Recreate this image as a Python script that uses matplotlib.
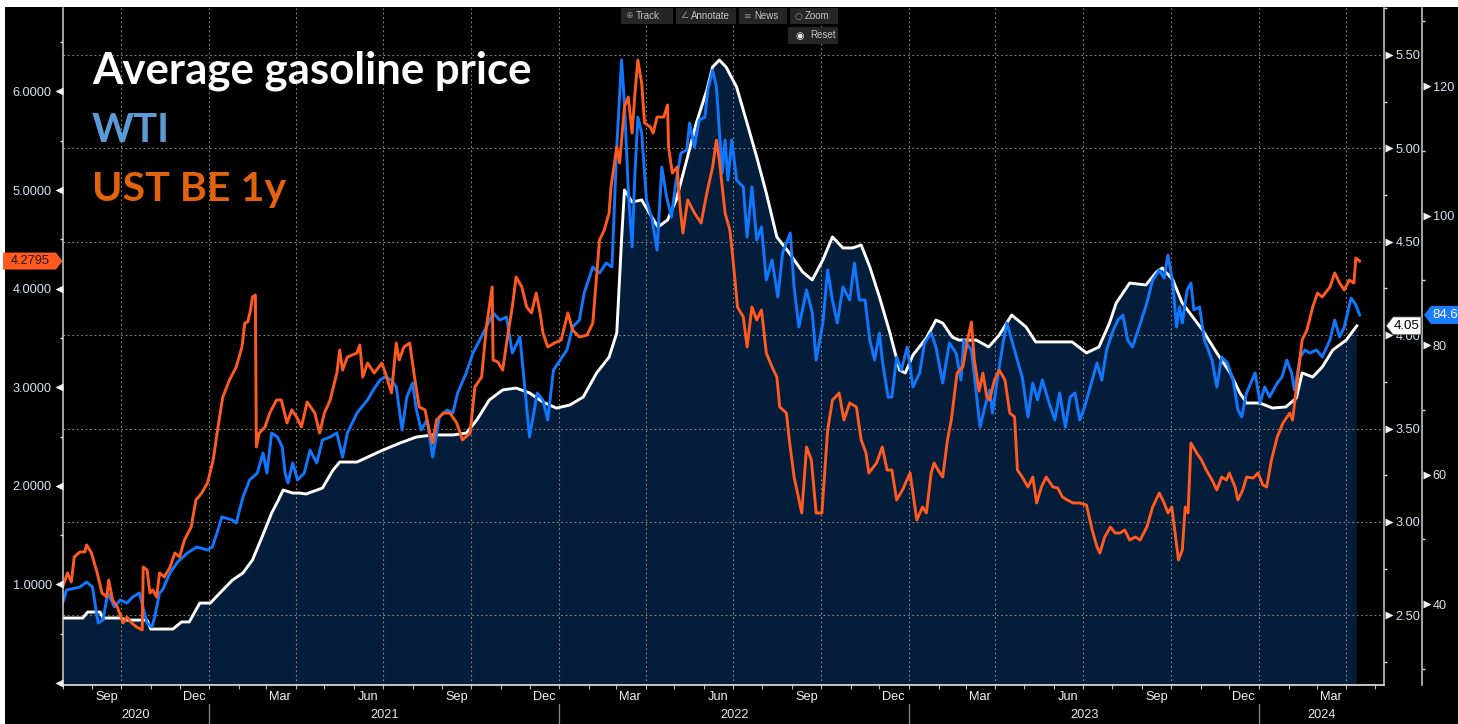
import matplotlib
matplotlib.use("Agg")
import matplotlib.pyplot as plt
import matplotlib.dates as mdates
import matplotlib.ticker as mticker
from matplotlib.patches import Polygon, Rectangle
from matplotlib.transforms import blended_transform_factory, offset_copy
from matplotlib import font_manager
import numpy as np
import pandas as pd

installed = {f.name for f in font_manager.fontManager.ttflist}
TICK_FONT = 'Liberation Sans' if 'Liberation Sans' in installed else 'DejaVu Sans'
TITLE_FONT = 'Lato' if 'Lato' in installed else 'DejaVu Sans'
plt.rcParams['font.family'] = [TICK_FONT, 'DejaVu Sans']

# ---------------- data ----------------
gas_dates = ["2020-08-01","2020-08-22","2020-08-27","2020-09-09","2020-09-12","2020-09-30","2020-10-07","2020-10-28",
             "2020-11-01","2020-11-24","2020-12-03","2020-12-11","2020-12-22","2021-01-02","2021-01-12","2021-01-25",
             "2021-02-05","2021-02-15","2021-02-25","2021-03-07","2021-03-14","2021-03-19","2021-03-29","2021-04-05",
             "2021-04-12","2021-04-29","2021-05-10","2021-05-17","2021-06-04","2021-06-20","2021-07-01","2021-07-19",
             "2021-08-05","2021-08-22","2021-09-12","2021-09-26","2021-10-07","2021-10-20","2021-11-03","2021-11-17",
             "2021-12-01","2021-12-15","2021-12-29","2022-01-12","2022-01-26","2022-02-09","2022-02-22","2022-03-02",
             "2022-03-07","2022-03-10","2022-03-18","2022-03-28","2022-04-05","2022-04-14","2022-04-24","2022-05-03",
             "2022-05-14","2022-05-24","2022-06-04","2022-06-10","2022-06-17","2022-06-24","2022-07-05","2022-07-15",
             "2022-07-26","2022-08-05","2022-08-16","2022-08-29","2022-09-12","2022-09-22","2022-10-03","2022-10-13",
             "2022-10-24","2022-11-03","2022-11-12","2022-11-21","2022-12-01","2022-12-12","2022-12-22","2022-12-28",
             "2023-01-05","2023-01-19","2023-01-29","2023-02-05","2023-02-15","2023-02-22","2023-03-12","2023-03-25",
             "2023-04-05","2023-04-18","2023-05-03","2023-05-13","2023-06-03","2023-06-20","2023-07-05","2023-07-18",
             "2023-07-29","2023-08-05","2023-08-19","2023-09-05","2023-09-16","2023-09-22","2023-10-03","2023-10-13",
             "2023-10-24","2023-11-03","2023-11-18","2023-12-02","2023-12-12","2023-12-19","2024-01-02","2024-01-15",
             "2024-01-29","2024-02-09","2024-02-15","2024-02-26","2024-03-07","2024-03-18","2024-04-01","2024-04-12"]
gas_values = [2.486,2.486,2.518,2.518,2.486,2.486,2.475,2.475,
              2.427,2.427,2.465,2.465,2.566,2.566,2.620,2.689,
              2.727,2.797,2.920,3.048,3.118,3.171,3.155,3.155,
              3.150,3.182,3.278,3.321,3.321,3.359,3.385,3.423,
              3.455,3.466,3.466,3.476,3.546,3.653,3.707,3.717,
              3.691,3.642,3.610,3.626,3.669,3.798,3.883,4.012,
              4.510,4.777,4.713,4.724,4.654,4.579,4.617,4.724,
              4.938,5.136,5.313,5.436,5.473,5.436,5.329,5.152,
              4.954,4.761,4.526,4.440,4.338,4.296,4.403,4.526,
              4.467,4.467,4.483,4.365,4.205,4.012,3.814,3.798,
              3.894,3.985,4.081,4.065,3.990,3.974,3.974,3.937,
              4.001,4.108,4.044,3.964,3.964,3.964,3.905,3.937,
              4.065,4.172,4.279,4.269,4.338,4.360,4.297,4.172,
              4.097,4.028,3.905,3.798,3.691,3.637,3.637,3.610,
              3.616,3.664,3.798,3.776,3.830,3.921,3.974,4.05]

wti_dates = ["2020-08-01","2020-08-05","2020-08-19","2020-08-26","2020-09-01","2020-09-07","2020-09-12","2020-09-17",
             "2020-09-24","2020-09-30","2020-10-07","2020-10-13","2020-10-20","2020-10-28","2020-11-02","2020-11-05",
             "2020-11-10","2020-11-13","2020-11-21","2020-11-28","2020-12-09","2020-12-19","2020-12-30","2021-01-04",
             "2021-01-09","2021-01-14","2021-01-25","2021-01-29","2021-02-05","2021-02-12","2021-02-20","2021-02-26",
             "2021-03-02","2021-03-07","2021-03-13","2021-03-18","2021-03-21","2021-03-24","2021-03-29","2021-04-03",
             "2021-04-10","2021-04-16","2021-04-23","2021-04-29","2021-05-07","2021-05-14","2021-05-20","2021-05-25",
             "2021-06-04","2021-06-15","2021-06-21","2021-06-28","2021-07-03","2021-07-10","2021-07-15","2021-07-21",
             "2021-07-26","2021-08-01","2021-08-05","2021-08-10","2021-08-16","2021-08-22","2021-08-29","2021-09-06",
             "2021-09-12","2021-09-17","2021-09-26","2021-10-03","2021-10-10","2021-10-17","2021-10-24","2021-10-31",
             "2021-11-07","2021-11-13","2021-11-21","2021-11-26","2021-12-01","2021-12-09","2021-12-15","2021-12-20",
             "2021-12-26","2022-01-02","2022-01-09","2022-01-15","2022-01-22","2022-01-27","2022-02-05","2022-02-12",
             "2022-02-19","2022-02-25","2022-03-02","2022-03-07","2022-03-10","2022-03-14","2022-03-18","2022-03-21",
             "2022-03-24","2022-03-28","2022-04-02","2022-04-08","2022-04-13","2022-04-18","2022-04-23","2022-04-28",
             "2022-05-03","2022-05-08","2022-05-14","2022-05-17","2022-05-22","2022-05-27","2022-06-02","2022-06-05",
             "2022-06-10","2022-06-14","2022-06-20","2022-06-23","2022-06-26","2022-06-30","2022-07-05","2022-07-12",
             "2022-07-16","2022-07-21","2022-07-26","2022-07-31","2022-08-05","2022-08-11","2022-08-17","2022-08-22",
             "2022-08-30","2022-09-03","2022-09-08","2022-09-16","2022-09-22","2022-09-26","2022-10-03","2022-10-08",
             "2022-10-13","2022-10-18","2022-10-24","2022-10-31","2022-11-05","2022-11-10","2022-11-16","2022-11-21",
             "2022-11-26","2022-12-01","2022-12-04","2022-12-10","2022-12-14","2022-12-19","2022-12-24","2022-12-30",
             "2023-01-05","2023-01-12","2023-01-17","2023-01-24","2023-01-29","2023-02-05","2023-02-12","2023-02-19",
             "2023-02-24","2023-02-27","2023-03-07","2023-03-16","2023-03-21","2023-03-26","2023-03-29","2023-04-04",
             "2023-04-09","2023-04-13","2023-04-18","2023-04-23","2023-04-29","2023-05-05","2023-05-10","2023-05-15",
             "2023-05-20","2023-05-27","2023-06-02","2023-06-07","2023-06-13","2023-06-18","2023-06-23","2023-06-28",
             "2023-07-03","2023-07-11","2023-07-16","2023-07-21","2023-07-26","2023-08-02","2023-08-07","2023-08-12",
             "2023-08-17","2023-08-22","2023-08-29","2023-09-06","2023-09-12","2023-09-19","2023-09-24","2023-09-28",
             "2023-10-03","2023-10-07","2023-10-10","2023-10-13","2023-10-18","2023-10-22","2023-10-25","2023-10-31",
             "2023-11-05","2023-11-13","2023-11-18","2023-11-23","2023-11-29","2023-12-05","2023-12-10","2023-12-14",
             "2023-12-19","2023-12-28","2024-01-02","2024-01-07","2024-01-12","2024-01-20","2024-01-25","2024-01-30",
             "2024-02-04","2024-02-07","2024-02-13","2024-02-18","2024-02-23","2024-03-01","2024-03-07","2024-03-15",
             "2024-03-20","2024-03-25","2024-03-30","2024-04-06","2024-04-11","2024-04-15"]
wti_values = [40.15,42.16,42.62,43.40,42.62,37.07,37.53,41.70,
              39.54,40.62,40.15,41.08,41.70,37.07,36.45,38.00,
              41.70,42.16,44.79,46.33,47.88,48.80,48.34,48.80,
              50.97,53.44,52.97,52.51,56.52,59.15,60.23,63.32,
              60.23,66.41,65.79,64.25,60.23,58.69,61.78,59.15,
              60.23,63.78,61.78,65.33,65.79,66.41,62.70,66.41,
              69.50,71.51,73.05,74.59,75.06,74.59,73.51,66.87,
              71.97,74.13,69.96,66.87,68.42,62.70,68.88,69.96,
              69.50,72.59,75.68,78.76,80.77,82.78,84.94,83.86,
              84.32,78.76,81.24,73.51,65.79,72.59,71.51,68.42,
              76.14,77.68,79.23,82.78,83.86,88.03,92.05,91.12,
              92.66,92.05,110.58,124.02,117.37,103.94,95.14,106.56,
              115.21,112.74,102.39,99.31,94.67,107.49,102.86,99.77,
              105.48,109.65,110.12,114.29,110.58,114.75,115.21,119.38,
              122.47,119.85,106.56,111.66,105.48,111.66,105.48,104.40,
              96.68,104.40,96.22,98.22,90.04,93.13,87.41,94.21,
              97.30,88.96,82.78,88.49,84.94,77.68,83.40,91.58,
              86.95,83.40,88.96,86.95,92.66,86.95,86.95,80.77,
              77.68,81.85,77.68,71.97,71.97,78.15,76.14,79.69,
              73.51,75.68,80.31,81.85,79.69,74.13,80.31,78.76,
              74.59,80.77,79.23,67.34,70.42,73.05,69.50,75.68,
              80.31,83.40,80.77,78.15,75.06,68.88,74.13,71.51,
              74.59,71.04,68.42,72.59,67.34,71.97,72.59,68.42,
              70.42,74.59,77.22,74.59,79.23,82.32,83.86,84.63,
              80.77,79.69,82.78,86.49,90.04,91.58,90.35,93.90,
              89.57,82.78,85.87,83.40,88.49,89.57,85.41,85.87,
              80.77,77.68,73.51,78.15,77.22,74.59,69.96,68.88,
              72.59,75.68,71.04,73.51,71.97,74.13,75.06,77.68,
              75.68,73.05,78.15,79.23,78.76,79.23,78.15,80.77,
              83.86,81.24,82.78,87.26,86.18,84.64]

be_dates = ["2020-08-01","2020-08-06","2020-08-10","2020-08-13","2020-08-19","2020-08-24","2020-08-26","2020-08-31",
            "2020-09-06","2020-09-11","2020-09-16","2020-09-18","2020-09-22","2020-09-27","2020-10-03","2020-10-07",
            "2020-10-12","2020-10-17","2020-10-23","2020-10-24","2020-10-28","2020-10-31","2020-11-03","2020-11-07",
            "2020-11-10","2020-11-15","2020-11-21","2020-11-26","2020-12-01","2020-12-06","2020-12-13","2020-12-18",
            "2020-12-24","2020-12-30","2021-01-05","2021-01-10","2021-01-15","2021-01-22","2021-01-29","2021-02-04",
            "2021-02-07","2021-02-10","2021-02-13","2021-02-15","2021-02-18","2021-02-19","2021-02-22","2021-02-28",
            "2021-03-05","2021-03-12","2021-03-17","2021-03-23","2021-03-28","2021-04-02","2021-04-07","2021-04-13",
            "2021-04-21","2021-04-26","2021-05-01","2021-05-07","2021-05-14","2021-05-17","2021-05-20","2021-05-25",
            "2021-06-04","2021-06-07","2021-06-10","2021-06-15","2021-06-22","2021-06-30","2021-07-05","2021-07-10",
            "2021-07-15","2021-07-18","2021-07-23","2021-07-29","2021-08-03","2021-08-08","2021-08-14","2021-08-19",
            "2021-08-22","2021-08-26","2021-09-02","2021-09-09","2021-09-16","2021-09-22","2021-09-30","2021-10-05",
            "2021-10-12","2021-10-17","2021-10-23","2021-10-24","2021-10-29","2021-11-03","2021-11-08","2021-11-13",
            "2021-11-17","2021-11-23","2021-11-28","2021-12-03","2021-12-08","2021-12-12","2021-12-15","2021-12-20",
            "2021-12-27","2022-01-03","2022-01-10","2022-01-15","2022-01-22","2022-01-30","2022-02-05","2022-02-12",
            "2022-02-17","2022-02-22","2022-02-24","2022-03-02","2022-03-05","2022-03-10","2022-03-14","2022-03-18",
            "2022-03-21","2022-03-24","2022-03-28","2022-03-31","2022-04-06","2022-04-09","2022-04-13","2022-04-20",
            "2022-04-24","2022-04-25","2022-04-29","2022-05-04","2022-05-07","2022-05-10","2022-05-15","2022-05-22",
            "2022-05-29","2022-06-04","2022-06-10","2022-06-14","2022-06-17","2022-06-23","2022-06-28","2022-07-01",
            "2022-07-06","2022-07-12","2022-07-16","2022-07-21","2022-07-26","2022-07-31","2022-08-05","2022-08-11",
            "2022-08-16","2022-08-19","2022-08-26","2022-08-29","2022-09-03","2022-09-11","2022-09-16","2022-09-21",
            "2022-09-26","2022-10-02","2022-10-08","2022-10-13","2022-10-20","2022-10-25","2022-10-31","2022-11-07",
            "2022-11-12","2022-11-17","2022-11-20","2022-11-28","2022-12-04","2022-12-09","2022-12-14","2022-12-19",
            "2022-12-25","2023-01-02","2023-01-09","2023-01-15","2023-01-19","2023-01-24","2023-01-27","2023-02-02",
            "2023-02-05","2023-02-10","2023-02-14","2023-02-20","2023-02-26","2023-03-03","2023-03-07","2023-03-10",
            "2023-03-15","2023-03-19","2023-03-23","2023-03-26","2023-03-31","2023-04-05","2023-04-11","2023-04-16",
            "2023-04-21","2023-04-24","2023-04-29","2023-05-05","2023-05-10","2023-05-14","2023-05-19","2023-05-24",
            "2023-05-31","2023-06-05","2023-06-10","2023-06-15","2023-06-21","2023-06-28","2023-07-05","2023-07-11",
            "2023-07-16","2023-07-19","2023-07-24","2023-07-30","2023-08-04","2023-08-09","2023-08-14","2023-08-19",
            "2023-08-25","2023-08-30","2023-09-06","2023-09-12","2023-09-19","2023-09-24","2023-09-28","2023-10-02",
            "2023-10-05","2023-10-09","2023-10-13","2023-10-16","2023-10-19","2023-10-22","2023-10-28","2023-11-02",
            "2023-11-07","2023-11-13","2023-11-18","2023-11-23","2023-11-28","2023-12-01","2023-12-07","2023-12-10",
            "2023-12-15","2023-12-19","2023-12-26","2023-12-31","2024-01-05","2024-01-09","2024-01-14","2024-01-20",
            "2024-01-26","2024-02-02","2024-02-05","2024-02-10","2024-02-15","2024-02-20","2024-02-26","2024-03-02",
            "2024-03-07","2024-03-15","2024-03-20","2024-03-25","2024-03-30","2024-04-04","2024-04-09","2024-04-11",
            "2024-04-15"]
be_values = [0.974,1.116,1.024,1.278,1.329,1.329,1.400,1.318,
             1.116,0.913,0.872,1.045,0.842,0.771,0.609,0.669,
             0.609,0.568,0.538,1.176,1.146,0.913,0.943,0.872,
             1.116,1.075,1.176,1.318,1.278,1.450,1.582,1.856,
             1.927,2.028,2.262,2.596,2.901,3.073,3.205,3.408,
             3.651,3.661,3.783,3.915,3.935,2.394,2.535,2.596,
             2.738,2.870,2.870,2.637,2.769,2.698,2.596,2.850,
             2.738,2.535,2.738,2.870,3.144,3.377,3.174,3.306,
             3.347,3.428,3.103,3.245,3.144,3.245,3.103,2.941,
             3.448,3.276,3.408,3.448,3.103,2.799,2.769,2.535,
             2.434,2.667,2.738,2.738,2.637,2.465,2.535,3.002,
             3.103,3.611,4.016,3.276,3.256,3.174,3.509,3.813,
             4.118,4.016,3.813,3.753,3.955,3.753,3.550,3.408,
             3.448,3.479,3.753,3.580,3.509,3.529,3.651,4.493,
             4.594,4.767,5.030,5.436,5.274,5.842,5.943,5.578,
             5.984,6.318,6.085,5.680,5.639,5.578,5.740,5.740,
             5.862,5.436,5.172,5.233,4.828,4.564,4.899,4.767,
             4.665,4.970,5.233,5.507,5.304,4.767,4.594,4.320,
             3.813,3.712,3.408,3.813,3.682,3.783,3.347,3.205,
             3.103,2.799,2.738,2.465,2.089,1.724,2.394,2.262,
             1.724,1.724,2.566,2.870,2.941,2.667,2.840,2.799,
             2.465,2.333,2.130,2.231,2.394,2.160,2.160,1.856,
             1.957,2.130,1.653,1.785,1.724,2.130,2.231,2.130,
             2.089,2.465,2.667,3.144,3.205,3.479,3.661,3.276,
             2.961,3.144,2.901,2.870,3.073,3.174,3.073,2.738,
             2.698,2.160,2.089,1.988,2.089,1.826,1.988,2.089,
             1.988,1.978,1.886,1.856,1.826,1.826,1.805,1.552,
             1.379,1.318,1.481,1.582,1.521,1.521,1.552,1.450,
             1.481,1.450,1.582,1.785,1.927,1.826,1.724,1.785,
             1.552,1.247,1.349,1.785,1.724,2.434,2.333,2.262,
             2.160,2.059,1.957,2.089,2.059,2.130,1.988,1.856,
             1.957,2.089,2.079,2.130,2.008,1.988,2.262,2.495,
             2.637,2.738,2.667,3.073,3.479,3.580,3.813,3.955,
             3.915,4.016,4.159,4.057,3.986,4.087,4.057,4.310,
             4.2795]

be_ticks = [0, 1, 2, 3, 4, 5, 6]
gas_ticks = [2.5, 3.0, 3.5, 4.0, 4.5, 5.0, 5.5]
wti_ticks = [40, 60, 80, 100, 120]
title_lines = ["Average gasoline price", "WTI", "UST BE 1y"]
toolbar_items = ["Track", "Annotate", "News", "Zoom"]

gas_dt = pd.to_datetime(gas_dates)
wti_dt = pd.to_datetime(wti_dates)
be_dt = pd.to_datetime(be_dates)

# ---------------- styling ----------------
W, H = 1458, 724
C_GAS, C_WTI, C_BE = '#ffffff', '#1078ff', '#ff5a1f'
C_FILL = '#041d3a'
C_GRID = '#8a8a8a'
C_LBL = '#d8e3f0'

fig = plt.figure(figsize=(W / 100, H / 100), dpi=100, facecolor='white')
fig.patches.append(Rectangle((5 / W, 0), 1, 1 - 7 / H, transform=fig.transFigure,
                             facecolor='black', edgecolor='none', zorder=-10))

L, R, B, T = 62.7, 1384.3, 685.0, 8.0
ax_g = fig.add_axes([L / W, (H - B) / H, (R - L) / W, (B - T) / H])
ax_g.set_facecolor('black')
ax_w = ax_g.twinx()
ax_u = ax_g.twinx()

for a in (ax_g, ax_w, ax_u):
    for s in a.spines.values():
        s.set_visible(False)
ax_g.spines['bottom'].set_visible(True)
ax_g.spines['bottom'].set_color('#e6e6e6')
ax_g.spines['bottom'].set_linewidth(1.2)
ax_g.spines['right'].set_visible(True)
ax_g.spines['right'].set_color('#cfcfcf')
ax_g.spines['right'].set_linewidth(1.1)
ax_u.spines['left'].set_visible(True)
ax_u.spines['left'].set_color('#cfcfcf')
ax_u.spines['left'].set_linewidth(1.1)
ax_w.spines['right'].set_visible(True)
ax_w.spines['right'].set_color('#cfcfcf')
ax_w.spines['right'].set_linewidth(1.1)
WTI_OFF_PX = 38
ax_w.spines['right'].set_position(('outward', WTI_OFF_PX * 0.72))

# series
ax_g.fill_between(gas_dt, gas_values, 0, color=C_FILL, lw=0, zorder=1)
ax_g.plot(gas_dt, gas_values, color=C_GAS, lw=2.1, zorder=2, solid_joinstyle='round')
ax_w.plot(wti_dt, wti_values, color=C_WTI, lw=2.1, solid_joinstyle='round')
ax_u.plot(be_dt, be_values, color=C_BE, lw=2.1, solid_joinstyle='round')

x0, x1 = pd.Timestamp('2020-08-01'), pd.Timestamp('2024-05-10 17:00')
ax_g.set_xlim(x0, x1)
ax_u.set_ylim(-0.0203, 6.846)
ax_g.set_ylim(2.1274, 5.7516)
ax_w.set_ylim(27.49, 132.05)

# x axis
ax_g.xaxis.set_major_locator(mdates.MonthLocator())
ax_g.xaxis.set_major_formatter(mticker.NullFormatter())
ax_g.xaxis.set_minor_locator(mdates.MonthLocator(bymonth=[3, 6, 9, 12], bymonthday=16))
ax_g.xaxis.set_minor_formatter(mdates.DateFormatter('%b'))
ax_g.tick_params(axis='x', which='major', length=3, width=0.8, color='#bdbdbd', direction='out')
ax_g.tick_params(axis='x', which='minor', length=0, pad=4.5, labelsize=9.2, labelcolor='#f2f2f2')
for a in (ax_w, ax_u):
    a.tick_params(axis='x', which='both', bottom=False, top=False, labelbottom=False, labeltop=False)

# y axes
ax_u.yaxis.set_major_locator(mticker.FixedLocator(be_ticks))
ax_u.yaxis.set_major_formatter(mticker.FuncFormatter(lambda v, p: '' if abs(v) < 1e-9 else f'{v:.4f}'))
ax_u.yaxis.set_minor_locator(mticker.FixedLocator(np.arange(0.5, 7.0, 1.0)))
ax_u.tick_params(axis='y', which='major', left=True, right=False, labelleft=True, labelright=False,
                 length=0, pad=7.8, labelsize=9.2, labelcolor=C_LBL)
ax_u.tick_params(axis='y', which='minor', left=True, right=False, length=2.5, width=1,
                 color='#e0e0e0', direction='out')

ax_g.yaxis.set_major_locator(mticker.FixedLocator(gas_ticks))
ax_g.yaxis.set_major_formatter(mticker.FormatStrFormatter('%.2f'))
ax_g.yaxis.set_minor_locator(mticker.FixedLocator(np.arange(2.25, 5.8, 0.5)))
ax_g.tick_params(axis='y', which='major', right=True, left=False, labelright=True, labelleft=False,
                 length=0, pad=8.0, labelsize=9.2, labelcolor=C_LBL)
ax_g.tick_params(axis='y', which='minor', right=True, left=False, length=2.5, width=1,
                 color='#e0e0e0', direction='out')

ax_w.yaxis.set_major_locator(mticker.FixedLocator(wti_ticks))
ax_w.yaxis.set_major_formatter(mticker.FormatStrFormatter('%d'))
ax_w.yaxis.set_minor_locator(mticker.FixedLocator(np.arange(30, 135, 20)))
ax_w.tick_params(axis='y', which='major', right=True, left=False, labelright=True, labelleft=False,
                 length=0, pad=7.5, labelsize=9.2, labelcolor=C_LBL)
ax_w.tick_params(axis='y', which='minor', right=True, left=False, length=2.5, width=1,
                 color='#e0e0e0', direction='out')

# grid
ax_g.set_axisbelow('line')
ax_g.yaxis.grid(True, which='major', color=C_GRID, linestyle=(0, (1.5, 2.5)), linewidth=0.8)
for d in pd.date_range('2020-10-01', '2024-04-01', freq='QS'):
    ax_g.axvline(d, color=C_GRID, linestyle=(0, (1.5, 2.5)), linewidth=0.8, zorder=1.5)


def triangles(ax, ticks, x_axes, dx_px, marker):
    base = blended_transform_factory(ax.transAxes, ax.transData)
    tr = offset_copy(base, fig=fig, x=dx_px, y=0, units='dots')
    ax.plot(np.full(len(ticks), x_axes), ticks, transform=tr, ls='none', marker=marker, ms=6,
            mec='none', mfc='#f2f2f2', clip_on=False, scalex=False, scaley=False, zorder=5)


triangles(ax_u, be_ticks, 0.0, -4.0, '<')
triangles(ax_g, gas_ticks, 1.0, 4.5, '>')
triangles(ax_w, wti_ticks, 1.0, WTI_OFF_PX + 4.5, '>')

# year labels and separators
yr_tr = blended_transform_factory(ax_g.transData, fig.transFigure)
for yr in range(2020, 2025):
    a = max(pd.Timestamp(f'{yr}-01-01'), x0)
    b = min(pd.Timestamp(f'{yr + 1}-01-01'), x1)
    mid = a + (b - a) / 2
    ax_g.text(mid, 1 - 715 / H, str(yr), transform=yr_tr, ha='center', va='center',
              fontsize=9.2, color='#e8e8e8')
    if yr > 2020:
        ax_g.plot([pd.Timestamp(f'{yr}-01-01')] * 2, [1 - 704 / H, 0], transform=yr_tr,
                  color='#8a8a8a', lw=0.9, clip_on=False, scalex=False, scaley=False)

# titles
title_colors = ['#ffffff', '#5b9bd5', '#e2630c']
title_base = [83.3, 141.5, 200.5]
title_sizes = [31.5, 28.8, 29.6]
for txt, col, yb, fs in zip(title_lines, title_colors, title_base, title_sizes):
    fig.text(92 / W, 1 - yb / H, txt, family=[TITLE_FONT, 'DejaVu Sans'], weight='bold',
             fontsize=fs, color=col, ha='left', va='baseline')

# toolbar
tb_boxes = [(621, 673), (676, 736), (739, 787), (790, 838)]
tb_icons = ['\u2295', '\u2220', '\u2261', '\u25cb']
for (bx0, bx1), lab, ic in zip(tb_boxes, toolbar_items, tb_icons):
    fig.patches.append(Rectangle((bx0 / W, 1 - 24 / H), (bx1 - bx0) / W, 16 / H,
                                 transform=fig.transFigure, facecolor='#262626', edgecolor='none', zorder=4))
    fig.text((bx0 + 8) / W, 1 - 16 / H, ic, fontsize=6.5, color='#8c8c8c', ha='center', va='center',
             family='DejaVu Sans', zorder=5)
    fig.text((bx0 + 15) / W, 1 - 16 / H, lab, fontsize=7, color='#c4c4c4', ha='left', va='center', zorder=5)
fig.patches.append(Rectangle((788 / W, 1 - 44 / H), 50 / W, 17 / H, transform=fig.transFigure,
                             facecolor='#262626', edgecolor='none', zorder=4))
fig.text(800 / W, 1 - 35.5 / H, '\u25c9', fontsize=7, color='#e8e8e8', ha='center', va='center',
         family='DejaVu Sans', zorder=5)
fig.text(810 / W, 1 - 35.5 / H, 'Reset', fontsize=7, color='#c4c4c4', ha='left', va='center', zorder=5)


# last-value tags
def ypix(ax, v):
    return ax.transData.transform((ax.get_xlim()[0], v))[1]


def tag(points_px, face, edge='none'):
    pts = [(x / W, y / H) for x, y in points_px]
    fig.patches.append(Polygon(pts, closed=True, transform=fig.transFigure, facecolor=face,
                               edgecolor=edge, lw=0.6, zorder=6))


yu = ypix(ax_u, be_values[-1])
tag([(3, yu - 8.5), (56, yu - 8.5), (62.5, yu), (56, yu + 8.5), (3, yu + 8.5)], C_BE)
fig.text(30 / W, yu / H, f'{be_values[-1]:.4f}', fontsize=9.2, color='#2a1208', ha='center', va='center', zorder=7)

yg = ypix(ax_g, gas_values[-1])
tag([(1386, yg), (1393, yg - 9), (1421, yg - 9), (1421, yg + 9), (1393, yg + 9)], '#ffffff', '#333333')
fig.text(1407 / W, yg / H, f'{gas_values[-1]:.2f}', fontsize=9.5, color='black', ha='center', va='center', zorder=7)

yw = ypix(ax_w, wti_values[-1])
tag([(1424, yw), (1431, yw - 9), (1470, yw - 9), (1470, yw + 9), (1431, yw + 9)], '#1a7cff')
fig.text(1432 / W, yw / H, f'{wti_values[-1]:.2f}', fontsize=9.5, color='white', ha='left', va='center', zorder=7)

fig.savefig('out.png', dpi=100, facecolor=fig.get_facecolor())
